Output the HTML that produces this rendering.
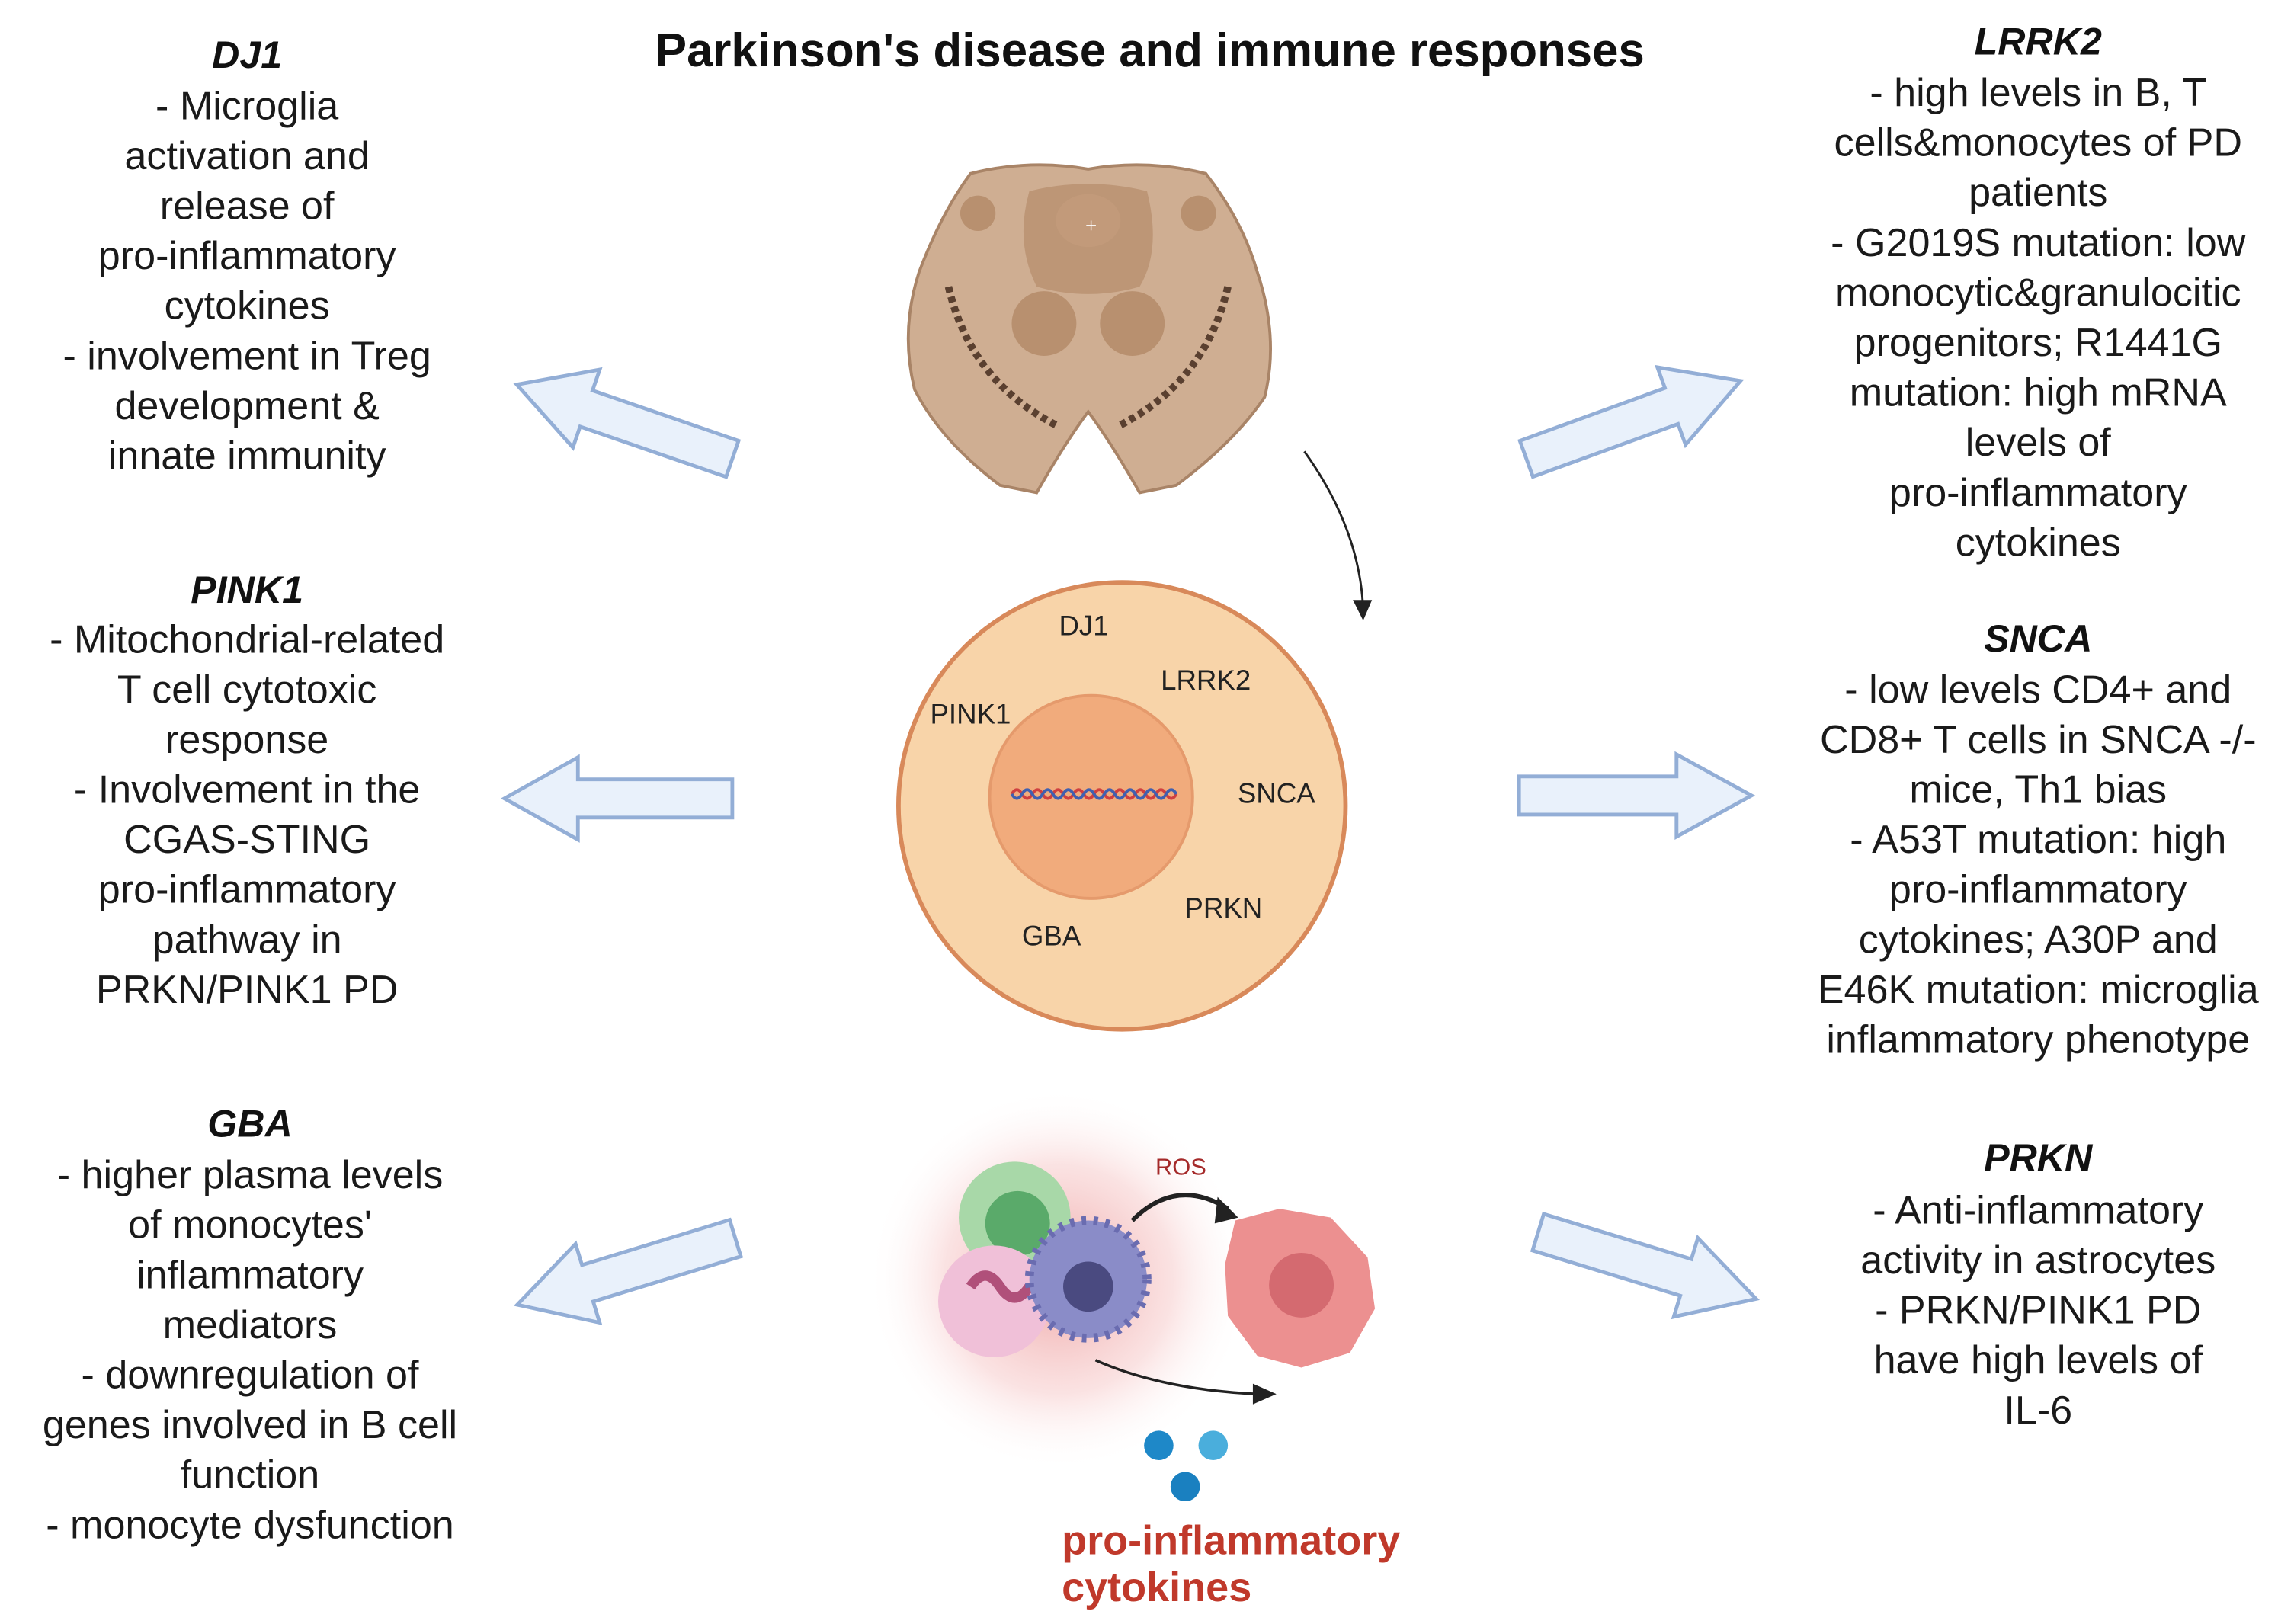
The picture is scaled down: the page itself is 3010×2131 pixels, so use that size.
<!DOCTYPE html>
<html><head><meta charset="utf-8"><style>
html,body{margin:0;padding:0;background:#fff;}
svg{display:block;}
.t{font-family:"Liberation Sans Narrow","Liberation Sans",sans-serif;font-size:27px;fill:#1a1a1a;text-anchor:middle;}
.h{font-family:"Liberation Sans",sans-serif;font-size:26px;font-weight:bold;font-style:italic;fill:#111;text-anchor:middle;}
.c{font-family:"Liberation Sans Narrow","Liberation Sans",sans-serif;font-size:19px;fill:#222;text-anchor:middle;}
</style></head><body>
<svg width="3010" height="2131" viewBox="0 0 1560 1104.4" xmlns="http://www.w3.org/2000/svg">
<defs>
<radialGradient id="glow" cx="0.5" cy="0.5" r="0.5">
<stop offset="0" stop-color="#e05a5a" stop-opacity="0.55"/>
<stop offset="0.6" stop-color="#f0a0a0" stop-opacity="0.3"/>
<stop offset="1" stop-color="#ffffff" stop-opacity="0"/>
</radialGradient>
<g id="arr"><path d="M0,-13 L105,-13 L105,-28 L155,0 L105,28 L105,13 L0,13 Z" fill="#e9f1fb" stroke="#93aed6" stroke-width="2.5" stroke-linejoin="miter"/></g>
</defs>
<g transform="translate(0,-3)">
<text x="782" y="48" font-family="Liberation Sans Narrow, Liberation Sans, sans-serif" font-size="32" font-weight="bold" text-anchor="middle" fill="#111">Parkinson's disease and immune responses</text>

<text class="h" x="168" y="49">DJ1</text>
<text class="t" x="168" y="84">-  Microglia</text>
<text class="t" x="168" y="118">activation and</text>
<text class="t" x="168" y="152">release of</text>
<text class="t" x="168" y="186">pro-inflammatory</text>
<text class="t" x="168" y="220">cytokines</text>
<text class="t" x="168" y="254">- involvement in Treg</text>
<text class="t" x="168" y="288">development &amp;</text>
<text class="t" x="168" y="322">innate immunity</text>

<text class="h" x="168" y="413">PINK1</text>
<text class="t" x="168" y="447">-  Mitochondrial-related</text>
<text class="t" x="168" y="481">T cell cytotoxic</text>
<text class="t" x="168" y="515">response</text>
<text class="t" x="168" y="549">- Involvement in the</text>
<text class="t" x="168" y="583">CGAS-STING</text>
<text class="t" x="168" y="617">pro-inflammatory</text>
<text class="t" x="168" y="651">pathway in</text>
<text class="t" x="168" y="685">PRKN/PINK1 PD</text>

<text class="h" x="170" y="776">GBA</text>
<text class="t" x="170" y="811">- higher plasma levels</text>
<text class="t" x="170" y="845">of monocytes'</text>
<text class="t" x="170" y="879">inflammatory</text>
<text class="t" x="170" y="913">mediators</text>
<text class="t" x="170" y="947">- downregulation of</text>
<text class="t" x="170" y="981">genes involved in B cell</text>
<text class="t" x="170" y="1015">function</text>
<text class="t" x="170" y="1049">- monocyte dysfunction</text>

<text class="h" x="1386" y="40">LRRK2</text>
<text class="t" x="1386" y="75">- high levels in B, T</text>
<text class="t" x="1386" y="109">cells&amp;monocytes of PD</text>
<text class="t" x="1386" y="143">patients</text>
<text class="t" x="1386" y="177">- G2019S mutation: low</text>
<text class="t" x="1386" y="211">monocytic&amp;granulocitic</text>
<text class="t" x="1386" y="245">progenitors; R1441G</text>
<text class="t" x="1386" y="279">mutation: high mRNA</text>
<text class="t" x="1386" y="313">levels of</text>
<text class="t" x="1386" y="347">pro-inflammatory</text>
<text class="t" x="1386" y="381">cytokines</text>

<text class="h" x="1386" y="446">SNCA</text>
<text class="t" x="1386" y="481">- low levels CD4+ and</text>
<text class="t" x="1386" y="515">CD8+ T cells in SNCA -/-</text>
<text class="t" x="1386" y="549">mice, Th1 bias</text>
<text class="t" x="1386" y="583">- A53T mutation: high</text>
<text class="t" x="1386" y="617">pro-inflammatory</text>
<text class="t" x="1386" y="651">cytokines; A30P and</text>
<text class="t" x="1386" y="685">E46K mutation: microglia</text>
<text class="t" x="1386" y="719">inflammatory phenotype</text>

<text class="h" x="1386" y="799">PRKN</text>
<text class="t" x="1386" y="835">- Anti-inflammatory</text>
<text class="t" x="1386" y="869">activity in astrocytes</text>
<text class="t" x="1386" y="903">- PRKN/PINK1 PD</text>
<text class="t" x="1386" y="937">have high levels of</text>
<text class="t" x="1386" y="971">IL-6</text>
</g>

<use href="#arr" transform="translate(498,312) rotate(199)"/>
<use href="#arr" transform="translate(498,543) rotate(180)"/>
<use href="#arr" transform="translate(500,842) rotate(163)"/>
<use href="#arr" transform="translate(1038,312) rotate(-20)"/>
<use href="#arr" transform="translate(1033,541) scale(1.02,1)"/>
<use href="#arr" transform="translate(1046,838) rotate(17)"/>

<g>
<path d="M660,118 Q700,108 740,115 Q780,108 820,118 Q845,150 855,185 Q870,230 860,270 Q840,300 800,330 L775,335 Q755,300 740,280 Q725,300 705,335 L680,330 Q640,300 622,265 Q612,225 625,185 Q640,145 660,118 Z" fill="#cfae92" stroke="#a98467" stroke-width="2"/>
<path d="M700,130 Q740,120 780,130 Q790,170 775,195 Q740,205 705,195 Q690,165 700,130 Z" fill="#b8906f" opacity="0.8"/>
<ellipse cx="740" cy="150" rx="22" ry="18" fill="#c29a7a"/>
<circle cx="710" cy="220" r="22" fill="#b8906f"/>
<circle cx="770" cy="220" r="22" fill="#b8906f"/>
<circle cx="665" cy="145" r="12" fill="#b8906f"/>
<circle cx="815" cy="145" r="12" fill="#b8906f"/>
<path d="M645,195 Q660,260 720,290" fill="none" stroke="#5a4030" stroke-width="5" stroke-dasharray="4 3"/>
<path d="M835,195 Q820,260 760,290" fill="none" stroke="#5a4030" stroke-width="5" stroke-dasharray="4 3"/>
<text x="742" y="158" font-size="14" fill="#fff" text-anchor="middle">+</text>
</g>
<path d="M887,307 Q925,360 927,415" fill="none" stroke="#222" stroke-width="1.5"/>
<path d="M920,408 L927,422 L933,408 Z" fill="#222"/>

<circle cx="763" cy="548" r="152" fill="#f8d4a9" stroke="#d8895a" stroke-width="3"/>
<circle cx="742" cy="542" r="69" fill="#f1ab7c" stroke="#e59a6c" stroke-width="2"/>
<path d="M688,540 q3.5,-6 7,0 t7,0 t7,0 t7,0 t7,0 t7,0 t7,0 t7,0 t7,0 t7,0 t7,0 t7,0 t7,0 t7,0 t7,0 t7,0" fill="none" stroke="#d04040" stroke-width="2"/>
<path d="M688,540 q3.5,6 7,0 t7,0 t7,0 t7,0 t7,0 t7,0 t7,0 t7,0 t7,0 t7,0 t7,0 t7,0 t7,0 t7,0 t7,0 t7,0" fill="none" stroke="#4060b0" stroke-width="2"/>
<text class="c" x="737" y="432">DJ1</text>
<text class="c" x="820" y="469">LRRK2</text>
<text class="c" x="660" y="492">PINK1</text>
<text class="c" x="868" y="546">SNCA</text>
<text class="c" x="832" y="624">PRKN</text>
<text class="c" x="715" y="643">GBA</text>

<circle cx="720" cy="870" r="130" fill="url(#glow)"/>
<circle cx="690" cy="828" r="38" fill="#a8d8a8"/>
<circle cx="692" cy="832" r="22" fill="#5aaa6a"/>
<circle cx="676" cy="885" r="38" fill="#f0c0d8"/>
<path d="M660,875 q10,-15 20,0 q10,15 20,0" fill="none" stroke="#b0507a" stroke-width="7"/>
<circle cx="740" cy="870" r="40" fill="#8a8cc8" stroke="#6a6cb0" stroke-width="6" stroke-dasharray="3 5"/>
<circle cx="740" cy="875" r="17" fill="#4a4a80"/>
<path d="M840,830 L870,822 L905,828 L930,855 L935,890 L918,920 L885,930 L855,922 L835,895 L833,860 Z" fill="#ec9090"/>
<circle cx="885" cy="874" r="22" fill="#d46a70"/>
<text x="803" y="799" font-family="Liberation Sans, sans-serif" font-size="16" fill="#a52a2a" text-anchor="middle">ROS</text>
<path d="M770,830 Q800,800 835,822" fill="none" stroke="#222" stroke-width="3"/>
<path d="M828,814 L842,828 L826,832 Z" fill="#222"/>
<path d="M745,925 Q790,945 855,948" fill="none" stroke="#222" stroke-width="1.8"/>
<path d="M852,941 L868,948 L852,955 Z" fill="#222"/>
<circle cx="788" cy="983" r="10" fill="#1e88c8"/>
<circle cx="825" cy="983" r="10" fill="#4aaedc"/>
<circle cx="806" cy="1011" r="10" fill="#1a80c0"/>
<text x="722" y="1057" font-family="Liberation Sans Narrow, Liberation Sans, sans-serif" font-size="28" font-weight="bold" fill="#c0392b">pro-inflammatory</text>
<text x="722" y="1089" font-family="Liberation Sans Narrow, Liberation Sans, sans-serif" font-size="28" font-weight="bold" fill="#c0392b">cytokines</text>
</svg>
</body></html>
